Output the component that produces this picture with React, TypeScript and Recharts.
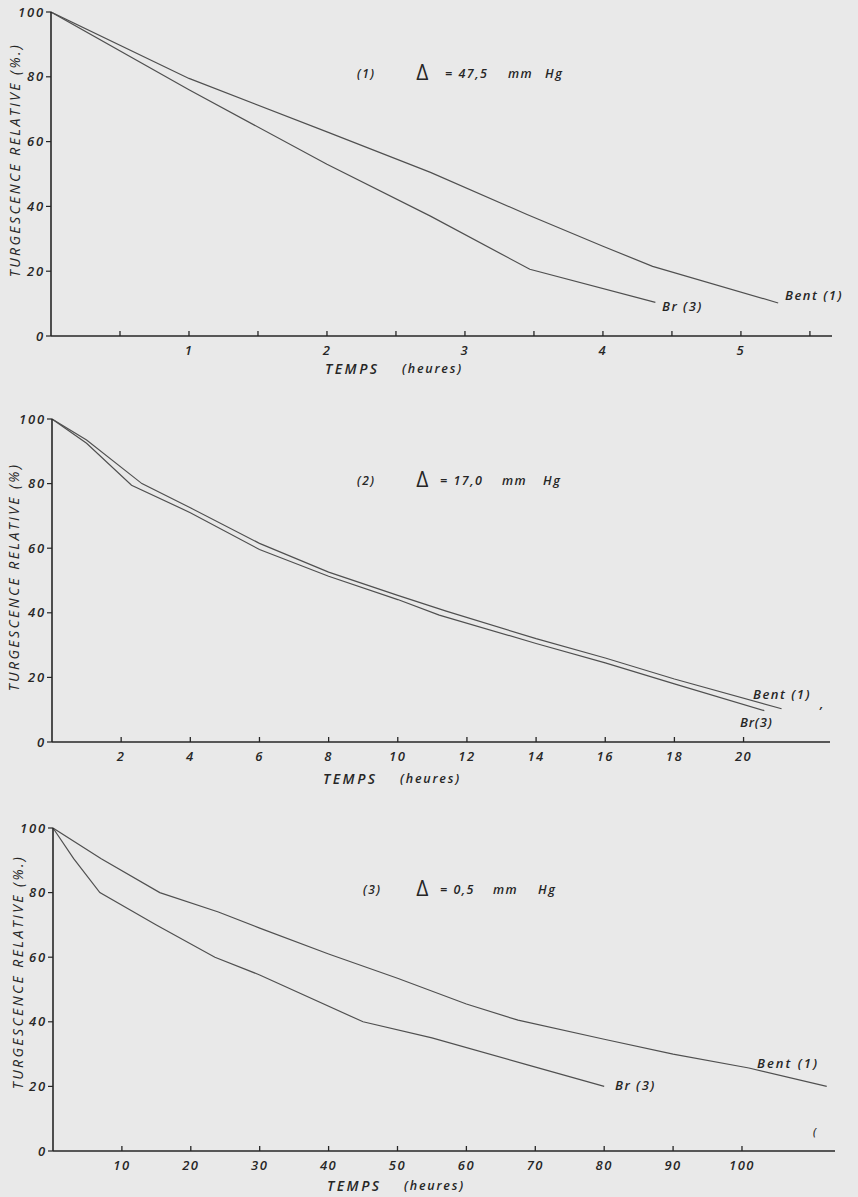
import React from 'react';
import { LineChart, Line, XAxis, YAxis } from 'recharts';

// Panel 1 : delta = 47,5 mm Hg (hours)
const bent1 = [
  { t: 0, v: 100 }, { t: 1, v: 79.5 }, { t: 2, v: 63 }, { t: 2.75, v: 50.5 },
  { t: 3.45, v: 37.5 }, { t: 4, v: 27.7 }, { t: 4.36, v: 21.5 }, { t: 5.27, v: 10.2 },
];
const br1 = [
  { t: 0, v: 100 }, { t: 1, v: 76 }, { t: 2, v: 53 }, { t: 2.75, v: 37 },
  { t: 3.47, v: 20.6 }, { t: 4.38, v: 10.4 },
];
const ticks1 = [0.5, 1, 1.5, 2, 2.5, 3, 3.5, 4, 4.5, 5, 5.5];

// Panel 2 : delta = 17,0 mm Hg
const bent2 = [
  { t: 0, v: 100 }, { t: 1, v: 93.5 }, { t: 2.6, v: 80 }, { t: 4, v: 72.5 },
  { t: 6, v: 61.5 }, { t: 8, v: 52.6 }, { t: 10, v: 45.4 }, { t: 11.4, v: 40.5 },
  { t: 14, v: 32 }, { t: 16, v: 26 }, { t: 18, v: 19.5 }, { t: 21.1, v: 10.3 },
];
const br2 = [
  { t: 0, v: 100 }, { t: 1, v: 92.5 }, { t: 2.3, v: 79.5 }, { t: 4, v: 71 },
  { t: 6, v: 59.6 }, { t: 8, v: 51.3 }, { t: 10, v: 44.1 }, { t: 11.2, v: 39.3 },
  { t: 14, v: 30.5 }, { t: 16, v: 24.5 }, { t: 18, v: 18 }, { t: 20.6, v: 9.7 },
];
const ticks2 = [2, 4, 6, 8, 10, 12, 14, 16, 18, 20];

// Panel 3 : delta = 0,5 mm Hg
const bent3 = [
  { t: 0, v: 100 }, { t: 7, v: 90.5 }, { t: 15.5, v: 80 }, { t: 24, v: 74 },
  { t: 30, v: 69 }, { t: 40, v: 61 }, { t: 50, v: 53.5 }, { t: 60, v: 45.5 },
  { t: 67.5, v: 40.5 }, { t: 80, v: 34.6 }, { t: 90, v: 30 }, { t: 101, v: 25.7 },
  { t: 112.3, v: 20 },
];
const br3 = [
  { t: 0, v: 100 }, { t: 3, v: 90.5 }, { t: 6.8, v: 80 }, { t: 15, v: 70 },
  { t: 23.5, v: 60 }, { t: 30, v: 54.5 }, { t: 45, v: 40 }, { t: 55, v: 35 },
  { t: 69, v: 26.6 }, { t: 80, v: 20 },
];
const ticks3 = [10, 20, 30, 40, 50, 60, 70, 80, 90, 100];

const yTicks = [0, 20, 40, 60, 80, 100];

const INK = '#262626';
const LINE = '#505050';
const FONT = '"Open Sans", "DejaVu Sans", sans-serif';

const XTick = ({ x, y, payload }: any) => {
  const v = payload.value;
  const label = Number.isInteger(v) ? String(v) : '';
  return (
    <g>
      <line x1={x} x2={x} y1={y - 5} y2={y} stroke={INK} strokeWidth={1.3} />
      {label && (
        <text x={x} y={y + 19} textAnchor="middle" fill={INK} fontSize={13} fontStyle="italic"
          fontWeight={600} fontFamily={FONT} letterSpacing={1.5}>
          {label}
        </text>
      )}
    </g>
  );
};

const YTick = ({ x, y, payload }: any) => (
  <text x={x} y={y + 4.5} textAnchor="end" fill={INK} fontSize={13} fontStyle="italic"
    fontWeight={600} fontFamily={FONT} letterSpacing={1.8}>
    {payload.value}
  </text>
);

function Panel({ top, height, mTop, mBottom, yw, mRight, xMax, ticks, bent, br }: any) {
  return (
    <div style={{ position: 'absolute', left: 0, top, width: 858, height }}>
      <LineChart width={858} height={height}
        margin={{ top: mTop, bottom: mBottom, left: 0, right: mRight }}>
        <XAxis type="number" dataKey="t" domain={[0, xMax]} ticks={ticks} tick={<XTick />}
          tickSize={0} tickMargin={0} height={30} allowDataOverflow
          axisLine={{ stroke: INK, strokeWidth: 1.6 }} tickLine={false} />
        <YAxis type="number" domain={[0, 100]} ticks={yTicks} width={yw} tick={<YTick />}
          tickSize={5} tickMargin={1} axisLine={{ stroke: INK, strokeWidth: 1.6 }}
          tickLine={{ stroke: INK, strokeWidth: 1.2 }} />
        <Line data={bent} dataKey="v" type="linear" stroke={LINE} strokeWidth={1.2}
          dot={false} isAnimationActive={false} />
        <Line data={br} dataKey="v" type="linear" stroke={LINE} strokeWidth={1.2}
          dot={false} isAnimationActive={false} />
      </LineChart>
    </div>
  );
}

const txt = {
  fill: INK,
  fontFamily: FONT,
  fontStyle: 'italic' as const,
  fontWeight: 600,
  fontSize: 13,
  letterSpacing: 1.5,
  dominantBaseline: 'central' as const,
};

function Notes() {
  const yLabel = (x: number, y: number, pct: string) => (
    <text x={x} y={y} transform={`rotate(-90 ${x} ${y})`} textAnchor="middle" {...txt}
      fontWeight={500} fontSize={14} letterSpacing={2.4}>
      {`TURGESCENCE  RELATIVE  ${pct}`}
    </text>
  );
  const temps = (x: number, y: number) => (
    <g>
      <text x={x} y={y} {...txt} fontSize={14} letterSpacing={2.5}>TEMPS</text>
      <text x={x + 77} y={y} {...txt} fontSize={12.5} letterSpacing={1.8}>(heures)</text>
    </g>
  );
  const title = (y: number, n: string, xn: number, val: string, xv: number, xmm: number, xhg: number) => (
    <g>
      <text x={xn} y={y} {...txt} fontSize={12}>{n}</text>
      <text x={423} y={y - 1} {...txt} textAnchor="middle" fontStyle="normal" fontWeight={400} fontSize={21}>Δ</text>
      <text x={xv} y={y} {...txt} fontSize={12.5}>{val}</text>
      <text x={xmm} y={y} {...txt} fontSize={12.5}>mm</text>
      <text x={xhg} y={y} {...txt} fontSize={12.5}>Hg</text>
    </g>
  );
  return (
    <svg width={858} height={1197} style={{ position: 'absolute', left: 0, top: 0, pointerEvents: 'none' }}>
      {yLabel(14, 160, '(%.)')}
      {temps(325, 368)}
      {title(73, '(1)', 357, '= 47,5', 445, 508, 545)}
      <text x={662} y={306} {...txt}>Br  (3)</text>
      <text x={785} y={295} {...txt}>Bent (1)</text>

      {yLabel(13, 577, '(%)')}
      {temps(323, 778)}
      {title(480, '(2)', 357, '= 17,0', 440, 502, 543)}
      <text x={753} y={694} {...txt}>Bent (1)</text>
      <text x={820} y={703} {...txt}>,</text>
      <text x={740} y={722} {...txt} letterSpacing={0.8}>Br(3)</text>

      {yLabel(17, 972, '(%.)')}
      {temps(327, 1185)}
      {title(889, '(3)', 363, '= 0,5', 440, 493, 538)}
      <text x={757} y={1063} {...txt} letterSpacing={2}>Bent (1)</text>
      <text x={615} y={1085} {...txt}>Br (3)</text>
      <text x={813} y={1132} {...txt} fontSize={10}>(</text>
    </svg>
  );
}

export default function App() {
  return (
    <div style={{ position: 'absolute', left: 0, top: 0, width: 858, height: 1197, background: '#e9e9e9' }}>
      <Panel top={0} height={380} mTop={12} mBottom={14} yw={51} mRight={26} xMax={5.66}
        ticks={ticks1} bent={bent1} br={br1} />
      <Panel top={380} height={420} mTop={39} mBottom={28} yw={52} mRight={28} xMax={22.5}
        ticks={ticks2} bent={bent2} br={br2} />
      <Panel top={800} height={397} mTop={28} mBottom={16} yw={53} mRight={23} xMax={113.5}
        ticks={ticks3} bent={bent3} br={br3} />
      <Notes />
    </div>
  );
}
